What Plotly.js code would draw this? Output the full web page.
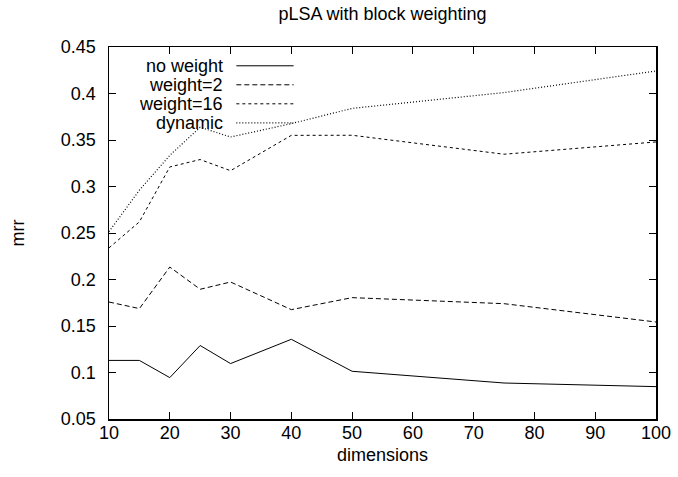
<!DOCTYPE html>
<html>
<head>
<meta charset="utf-8">
<script src="https://cdn.plot.ly/plotly-3.0.1.min.js"></script>
<style>html,body{margin:0;padding:0;background:#fff;}#chart{width:678px;height:477px;}</style>
</head>
<body>
<div id="chart"></div>
<script>
const dimensions = [10, 15, 20, 25, 30, 40, 50, 75, 100];
const noWeight  = [0.113, 0.113, 0.0945, 0.129, 0.1096, 0.1357, 0.1013, 0.0887, 0.0848];
const weight2   = [0.1758, 0.1687, 0.2134, 0.1895, 0.1973, 0.1676, 0.1805, 0.174, 0.1543];
const weight16  = [0.234, 0.262, 0.321, 0.329, 0.317, 0.355, 0.3551, 0.3347, 0.3479];
const dynamic   = [0.2515, 0.296, 0.3335, 0.3637, 0.3532, 0.3676, 0.384, 0.401, 0.4242];
const seriesNames = ['no weight', 'weight=2', 'weight=16', 'dynamic'];
const xTicks = [10, 20, 30, 40, 50, 60, 70, 80, 90, 100];
const yTicks = [0.05, 0.1, 0.15, 0.2, 0.25, 0.3, 0.35, 0.4, 0.45];
const yTickText = ['0.05', '0.1', '0.15', '0.2', '0.25', '0.3', '0.35', '0.4', '0.45'];

const seriesValues = [noWeight, weight2, weight16, dynamic];
const dashes = ['solid', '5px,3px', '3px,3px', '1px,2px'];
const widths = [1, 1, 1, 1.2];
const FONT = 'Liberation Sans, Arial, Helvetica, sans-serif';
const FS = 18;

const traces = seriesValues.map((vals, i) => ({
  x: dimensions, y: vals, type: 'scatter', mode: 'lines', name: seriesNames[i],
  line: {color: '#000', width: widths[i], dash: dashes[i]}, showlegend: false, hoverinfo: 'skip'
}));

// custom legend in gnuplot style: right-aligned text, line sample on the right
const legY = [0.9495, 0.8984, 0.8473, 0.7962];
const annotations = seriesNames.map((n, i) => ({
  xref: 'paper', yref: 'paper', x: 0.2127, y: legY[i], xanchor: 'right', yanchor: 'middle',
  text: n, showarrow: false, font: {family: FONT, size: FS, color: '#000'}
}));
const shapes = seriesNames.map((n, i) => ({
  type: 'line', xref: 'paper', yref: 'paper', x0: 0.2328, x1: 0.3375, y0: legY[i], y1: legY[i],
  line: {color: '#000', width: widths[i], dash: dashes[i]}
}));

const layout = {
  width: 678, height: 477,
  margin: {l: 109.3, r: 21.5, t: 46.7, b: 58.3},
  paper_bgcolor: '#fff', plot_bgcolor: '#fff',
  font: {family: FONT, size: FS, color: '#000'},
  title: {text: 'pLSA with block weighting', x: 0.5, xref: 'paper', xanchor: 'center',
          y: 1 - 14/477, yref: 'container', yanchor: 'middle', font: {family: FONT, size: FS, color: '#000'}},
  xaxis: {
    range: [10, 100], tickvals: xTicks, ticks: 'inside', ticklen: 7, tickwidth: 1, tickcolor: '#000',
    showline: true, linecolor: '#000', linewidth: 1.5, mirror: 'ticks', showgrid: false, zeroline: false,
    tickfont: {family: FONT, size: FS, color: '#000'}, ticklabelstandoff: -3,
    title: {text: 'dimensions', font: {family: FONT, size: FS, color: '#000'}, standoff: 6}
  },
  yaxis: {
    range: [0.05, 0.45], tickvals: yTicks, ticktext: yTickText, ticks: 'inside', ticklen: 7, tickwidth: 1, tickcolor: '#000',
    showline: true, linecolor: '#000', linewidth: 1.5, mirror: 'ticks', showgrid: false, zeroline: false,
    tickfont: {family: FONT, size: FS, color: '#000'}, ticklabelstandoff: 8,
    title: {text: 'mrr', font: {family: FONT, size: FS, color: '#000'}, standoff: 31}
  },
  annotations: annotations,
  shapes: shapes
};

Plotly.newPlot('chart', traces, layout, {staticPlot: true, displayModeBar: false});
</script>
</body>
</html>
